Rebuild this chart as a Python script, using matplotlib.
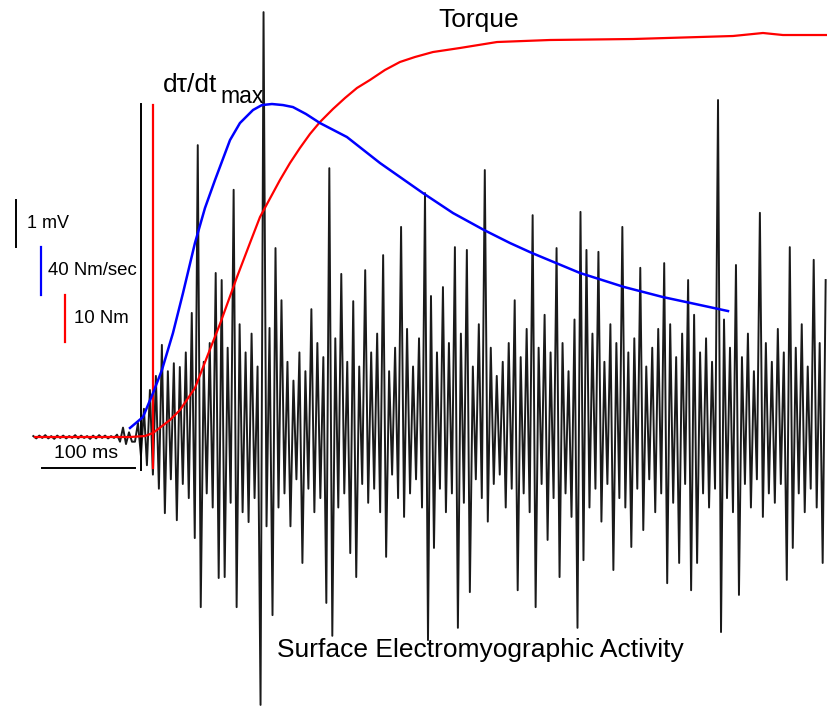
import numpy as np
import matplotlib.pyplot as plt

# time in ms (0 = EMG onset), EMG in mV
dt_ms = 3.25
emg_pre = [0.02, -0.03, 0.03, -0.02, 0.04, -0.03, 0.02, -0.04, 0.03, -0.02,
           0.03, -0.03, 0.02, -0.02, 0.04, -0.03, 0.03, -0.02, 0.02, -0.04,
           0.03, -0.03, 0.04, -0.02, 0.03, -0.03, 0.02, -0.02, 0.05, -0.1,
           0.2, -0.15, 0.1, -0.1]
emg_active = [
    -0.1, 0.3, -0.4, 0.6, -0.6, 1.0, -0.8, 1.3, -1.1, 1.96,
    -1.62, 1.4, -0.9, 1.57, -1.77, 1.49, -1.0, 1.8, -1.3, 2.64,
    -2.15, 6.21, -3.62, 1.6, -1.2, 2.0, -1.5, 3.49, -3.0, 3.34,
    -2.98, 1.9, -1.4, 5.26, -3.62, 2.4, -1.6, 1.8, -1.81, 2.2,
    -1.3, 1.5, -5.7, 9.04, -1.9, 2.32, -3.79, 4.02, -1.5, 2.91,
    -1.2, 1.6, -1.9, 1.2, -0.9, 1.8, -2.68, 1.4, -1.1, 2.72,
    -1.6, 2.0, -1.3, 1.7, -3.53, 5.72, -4.23, 2.1, -1.5, 3.47,
    -1.2, 1.6, -2.47, 2.89, -2.98, 1.5, -1.0, 3.55, -1.4, 1.8,
    -1.1, 2.2, -1.6, 3.87, -2.55, 1.4, -0.8, 1.9, -1.3, 4.47,
    -1.7, 2.3, -1.2, 1.5, -0.9, 2.1, -1.5, 5.19, -4.32, 3.0,
    -2.36, 1.8, -1.1, 3.19, -1.6, 2.0, -1.2, 4.04, -4.06, 2.2,
    -1.4, 3.98, -3.3, 1.5, -0.9, 2.4, -1.3, 5.68, -1.8, 1.9,
    -1.0, 1.3, -0.8, 1.6, -1.5, 2.0, -1.1, 2.91, -3.26, 1.7,
    -1.2, 2.3, -1.6, 4.72, -3.62, 1.9, -1.0, 2.6, -2.19, 1.8,
    -1.3, 4.02, -2.98, 2.0, -1.2, 1.4, -1.7, 2.5, -4.06, 4.79,
    -2.62, 3.98, -1.5, 2.2, -1.1, 3.94, -1.8, 1.6, -1.0, 2.4,
    -2.83, 2.0, -1.3, 4.47, -1.5, 1.8, -2.34, 2.1, -1.1, 3.6,
    -1.98, 1.5, -0.9, 1.9, -1.6, 2.3, -1.2, 3.7, -3.11, 2.4,
    -1.4, 1.7, -2.68, 2.2, -1.0, 3.34, -3.26, 2.6, -2.68, 1.8,
    -1.2, 2.1, -1.5, 1.6, -1.1, 7.17, -4.15, 2.5, -1.3, 1.9,
    -1.6, 3.66, -3.36, 1.7, -1.0, 2.2, -1.5, 1.4, -0.9, 4.77,
    -1.7, 2.0, -1.2, 1.6, -1.4, 2.3, -1.0, 1.8, -3.04, 4.04,
    -2.36, 1.9, -1.2, 2.4, -1.6, 1.5, -1.1, 3.77, -1.5, 2.0,
    -2.68, 3.34]

# torque (Nm)
torque_t = [-108.7, -5.4, 10.9, 19.6, 38.0, 48.9, 65.2, 78.3, 92.4, 110.9,
            125.0, 135.9, 157.6, 168.5, 179.3, 190.2, 201.1, 215.2, 228.3, 241.3,
            255.4, 271.7, 288.0, 304.3, 323.9, 353.3, 393.5, 451.1, 541.3, 650.0,
            682.6, 704.3, 752.2]
torque_nm = [0.0, 0.0, 0.21, 0.85, 3.62, 5.74, 10.43, 17.02, 24.04, 34.04,
             41.28, 46.81, 54.68, 58.30, 61.49, 64.47, 67.02, 69.79, 72.13, 74.26,
             75.96, 78.09, 79.79, 80.85, 81.91, 82.77, 84.04, 84.47, 84.68, 85.32,
             85.96, 85.53, 85.53]

# rate of torque development (Nm/s)
rate_t = [-5.4, 8.7, 19.6, 29.3, 41.3, 52.2, 65.2, 76.1, 87.0, 103.3,
          114.1, 128.3, 138.0, 148.9, 160.9, 171.7, 185.9, 201.1, 230.4, 266.3,
          288.0, 313.0, 345.7, 379.3, 407.6, 431.5, 457.6, 483.7, 531.5, 573.9,
          604.3, 644.6]
rate_nms = [7.7, 17.0, 37.4, 57.0, 88.5, 122.5, 165.1, 194.9, 218.7, 252.7,
            267.2, 278.3, 282.5, 283.4, 282.5, 280.8, 274.9, 267.2, 255.3, 233.2,
            221.3, 207.6, 190.6, 176.2, 165.1, 156.6, 148.1, 139.6, 127.7, 119.1,
            114.0, 107.2]

n_pre = len(emg_pre)
emg = np.array(emg_pre + emg_active)
emg_t = (np.arange(len(emg)) - n_pre) * dt_ms

fig = plt.figure(figsize=(8.27, 7.09), dpi=100)
ax = fig.add_axes([0, 0, 1, 1])
ax.set_xlim(-146.7, 752.2)
ax.set_ylim(-5.787, 9.298)
ax.axis('off')

font = 'Liberation Sans'

# EMG
ax.plot(emg_t, emg, color='#1a1a1a', lw=1.4)

# onset markers
ax.plot([6.5, 6.5], [-0.70, 7.09], color='black', lw=1.4)
ax.plot([19.6, 19.6], [-0.66, 7.06], color='red', lw=1.6)

# torque (10 Nm per unit) and rate (40 Nm/s per unit)
ax.plot(torque_t, np.array(torque_nm) / 10, color='red', lw=1.6)
ax.plot(rate_t, np.array(rate_nms) / 40, color='blue', lw=1.8)

# scale bars
ax.plot([-129.3, -129.3], [5.04, 4.04], color='black', lw=1.4)
ax.text(-117.4, 4.54, '1 mV', fontsize=13, family=font, va='center')
ax.plot([-102.2, -102.2], [4.04, 3.02], color='blue', lw=1.6)
ax.text(-94.6, 3.55, '40 Nm/sec', fontsize=13.4, family=font, va='center')
ax.plot([-76.1, -76.1], [3.02, 2.02], color='red', lw=1.6)
ax.text(-66.3, 2.53, '10 Nm', fontsize=13.4, family=font, va='center')
ax.plot([-101.1, 0], [-0.66, -0.66], color='black', lw=1.4)
ax.text(-53, -0.36, '100 ms', fontsize=14, family=font, ha='center', va='center')

# labels
ax.text(30.4, 7.34, 'd\u03c4/dt', fontsize=19, family=font, va='baseline')
ax.text(92.4, 7.11, 'max', fontsize=16.5, family=font, va='baseline')
ax.text(374, 8.87, 'Torque', fontsize=19, family=font, ha='center', va='center')
ax.text(375, -4.53, 'Surface Electromyographic Activity', fontsize=19,
        family=font, ha='center', va='center')

fig.savefig('out.png', dpi=100)
